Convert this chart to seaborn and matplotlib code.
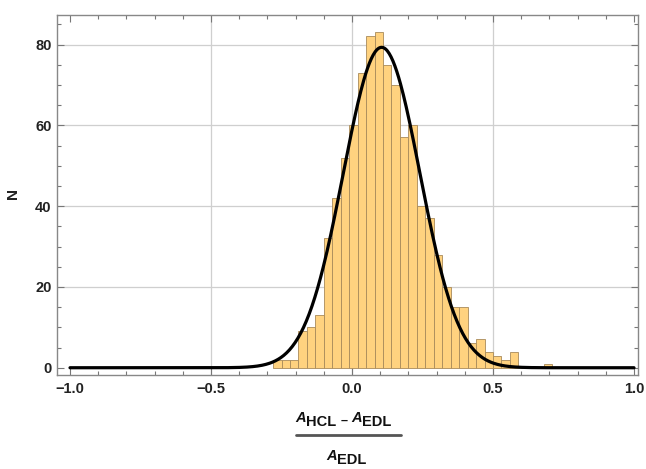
import numpy as np
import pandas as pd
import seaborn as sns
import matplotlib.pyplot as plt
from matplotlib.lines import Line2D
from matplotlib.ticker import MultipleLocator

sns.set_style("ticks")
plt.rcParams['font.family'] = ['Liberation Sans', 'DejaVu Sans']

# histogram data, bin width 0.03 starting at -0.28
bin_start = -0.28
bin_width = 0.03
counts = [2, 2, 2, 9, 10, 13, 32, 42, 52, 60, 73, 82, 83, 75, 70, 57, 60,
          40, 37, 28, 20, 15, 15, 6, 7, 4, 3, 2, 4, 0, 0, 0, 1]

# fitted normal curve
fit_mu = 0.105
fit_sigma = 0.136
fit_peak = 79.3

x_ticks = [-1.0, -0.5, 0.0, 0.5, 1.0]
x_ticklabels = ["\u22121.0", "\u22120.5", "0.0", "0.5", "1.0"]
y_ticks = [0, 20, 40, 60, 80]

edges = bin_start + bin_width * np.arange(len(counts) + 1)
centers = (edges[:-1] + edges[1:]) / 2
df = pd.DataFrame({'x': centers, 'n': counts})

xs = np.linspace(-1, 1, 600)
curve = pd.DataFrame({'x': xs,
                      'y': fit_peak * np.exp(-(xs - fit_mu) ** 2 / (2 * fit_sigma ** 2))})

W, H = 646, 469
fig = plt.figure(figsize=(W / 100, H / 100), dpi=100)
ax = fig.add_axes([0.0887, 0.2004, 0.8993, 0.7676])

for v in [-0.5, 0.0, 0.5]:
    ax.axvline(v, color='#cfcfcf', lw=0.9, zorder=0)
for v in [20, 40, 60, 80]:
    ax.axhline(v, color='#cfcfcf', lw=0.9, zorder=0)

sns.histplot(data=df, x='x', weights='n', bins=edges.tolist(), ax=ax,
             color='#ffd27f', alpha=1, edgecolor='#a88a5a', linewidth=0.6)
sns.lineplot(data=curve, x='x', y='y', ax=ax, color='black', lw=2.3)

ax.set_xlim(-1.045, 1.015)
ax.set_ylim(-1.8, 87.3)
ax.set_xticks(x_ticks)
ax.set_xticklabels(x_ticklabels)
ax.set_yticks(y_ticks)
ax.xaxis.set_minor_locator(MultipleLocator(0.1))
ax.yaxis.set_minor_locator(MultipleLocator(5))
ax.tick_params(which='both', direction='in', top=True, right=True,
               color='#777777', labelcolor='#222222', labelsize=10.5, width=0.8)
ax.tick_params(which='major', length=5, pad=4)
ax.tick_params(which='minor', length=3)
ax.tick_params(axis='x', labeltop=False, pad=5)
for lab in ax.get_xticklabels() + ax.get_yticklabels():
    lab.set_fontweight('bold')
for sp in ax.spines.values():
    sp.set_color('#888888')
    sp.set_linewidth(1.0)

ax.set_xlabel('')
ax.set_ylabel('N', fontweight='bold', fontsize=11, color='#222222')
ax.yaxis.set_label_coords(-0.064, 0.505)

# fraction label below the axis, built from pieces (pixel positions)
def piece(s, px, py, italic=False, size=10.5):
    fig.text(px / W, 1 - py / H, s, ha='left', va='baseline', fontsize=size,
             fontweight='bold', fontstyle='italic' if italic else 'normal',
             color='#111111')

piece('A', 295, 422, italic=True, size=10.5)
piece('HCL', 306, 426)
piece('\u2013', 341, 424, size=9)
piece('A', 351, 422, italic=True, size=10.5)
piece('EDL', 362, 426)
fig.add_artist(Line2D([296 / W, 401 / W], [1 - 434.5 / H, 1 - 434.5 / H],
                      color='#555555', lw=2.0))
piece('A', 326, 460, italic=True, size=10.5)
piece('EDL', 337, 464)

fig.savefig('out.png', dpi=100)
